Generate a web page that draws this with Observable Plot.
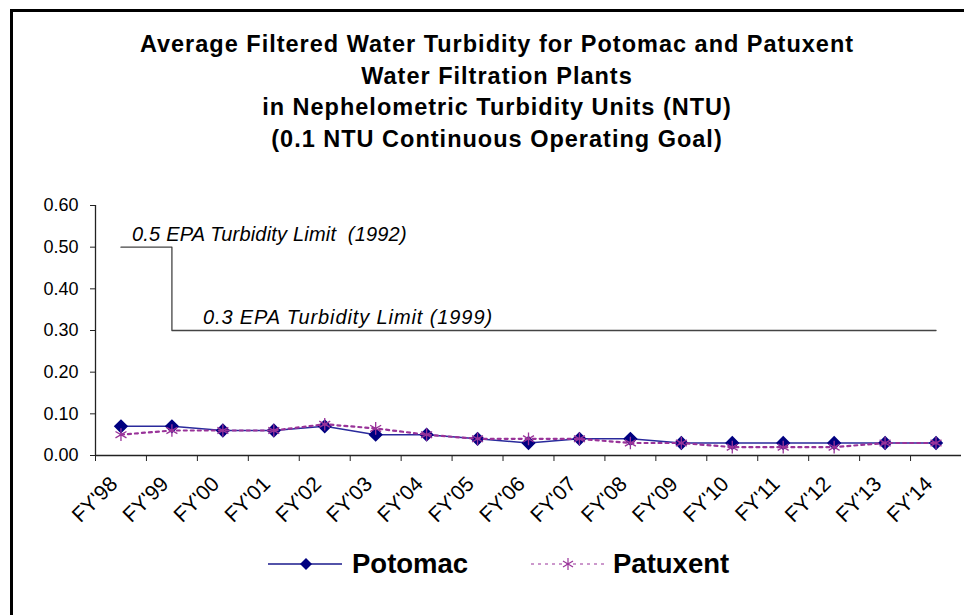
<!DOCTYPE html>
<html><head><meta charset="utf-8">
<script src="https://cdn.jsdelivr.net/npm/d3@7"></script>
<script src="https://cdn.jsdelivr.net/npm/@observablehq/plot@0.6"></script>
<style>
body{margin:0;background:#fff;font-family:"Liberation Sans",Arial,sans-serif;}
#wrap{position:relative;width:964px;height:615px;overflow:hidden;background:#fff}
#frame{position:absolute;left:10px;top:9px;width:970px;height:620px;border-left:3px solid #000;border-top:3px solid #000;box-sizing:border-box;}
#title{position:absolute;left:0;width:994px;top:29px;text-align:center;font-weight:bold;font-size:23.5px;line-height:31.5px;letter-spacing:1px;color:#000;}
#chart{position:absolute;left:0;top:0;}
#legend{position:absolute;left:0;top:540px;}
</style></head>
<body>
<div id="wrap">
  <div id="chart"></div>
  <div id="frame"></div>
  <div id="title">Average Filtered Water Turbidity for Potomac and Patuxent<br>Water Filtration Plants<br>in Nephelometric Turbidity Units (NTU)<br>(0.1 NTU Continuous Operating Goal)</div>
  <svg id="legend" width="964" height="50" font-family="Liberation Sans, Arial, sans-serif">
    <line x1="268" x2="342" y1="24" y2="24" stroke="#1a1a8c" stroke-width="1.5"/>
    <path d="M306,18L312,24L306,30L300,24Z" fill="#000080"/>
    <text x="352" y="33" font-size="27.5" font-weight="bold">Potomac</text>
    <line x1="531" x2="604" y1="24" y2="24" stroke="#993399" stroke-width="1.2" stroke-dasharray="3,4"/>
    <g stroke="#993399" stroke-width="1.2"><line x1="568" x2="568" y1="18" y2="30"/><line x1="563" x2="573" y1="21" y2="27"/><line x1="563" x2="573" y1="27" y2="21"/></g>
    <text x="613" y="33" font-size="27.5" font-weight="bold">Patuxent</text>
  </svg>
</div>
<script>
const categories = ["FY'98","FY'99","FY'00","FY'01","FY'02","FY'03","FY'04","FY'05","FY'06","FY'07","FY'08","FY'09","FY'10","FY'11","FY'12","FY'13","FY'14"];
const potomac  = [0.07,0.07,0.06,0.06,0.07,0.05,0.05,0.04,0.03,0.04,0.04,0.03,0.03,0.03,0.03,0.03,0.03];
const patuxent = [0.05,0.06,0.06,0.06,0.075,0.065,0.05,0.04,0.04,0.04,0.03,0.03,0.02,0.02,0.02,0.03,0.03];
const epaLimit = [0.5,0.3,0.3,0.3,0.3,0.3,0.3,0.3,0.3,0.3,0.3,0.3,0.3,0.3,0.3,0.3,0.3];
const yTicks = [0,0.1,0.2,0.3,0.4,0.5,0.6];
const annotations = [
  {i:0, y:0.5, label:"0.5 EPA Turbidity Limit  (1992)"},
  {i:1, y:0.3, label:"0.3 EPA Turbidity Limit (1999)"}
];

const rows = categories.map((c, i) => ({i, c, potomac: potomac[i], patuxent: patuxent[i], epa: epaLimit[i]}));
const boundaries = d3.range(-0.5, categories.length - 0.5, 1);

const chart = Plot.plot({
  width: 964, height: 615,
  marginTop: 205, marginBottom: 160, marginLeft: 95, marginRight: 3,
  style: {fontFamily: "Liberation Sans, Arial, sans-serif", background: "transparent", overflow: "visible"},
  x: {type: "linear", domain: [-0.5, categories.length - 0.5]},
  y: {domain: [0, 0.6]},
  marks: [
    Plot.axisY(yTicks, {tickFormat: d3.format(".2f"), tickSize: 5, tickPadding: 12, fontSize: 18, label: null, stroke: "#222", fill: "#000"}),
    Plot.axisX(boundaries, {tickFormat: () => "", tickSize: 6, label: null, stroke: "#222"}),
    Plot.ruleY([0], {stroke: "#222", strokeWidth: 1.3}),
    Plot.ruleX([-0.5], {y1: 0, y2: 0.6, stroke: "#222", strokeWidth: 1.3}),
    Plot.text(rows, {x: "i", y: () => 0, text: "c", rotate: -45, textAnchor: "end", lineAnchor: "middle", dx: -7, dy: 25, fontSize: 21, fill: "#000"}),
    Plot.line(rows, {x: "i", y: "epa", curve: "step-after", stroke: "#444", strokeWidth: 1.3}),
    Plot.text(annotations.slice(0,1), {x: "i", y: "y", text: "label", textAnchor: "start", lineAnchor: "bottom", dx: 11, dy: -6, fontSize: 20, fontStyle: "italic", fill: "#000", style: "letter-spacing:0.2px"}),
    Plot.text(annotations.slice(1), {x: "i", y: "y", text: "label", textAnchor: "start", lineAnchor: "bottom", dx: 31, dy: -7, fontSize: 20, fontStyle: "italic", fill: "#000"}),
    Plot.line(rows, {x: "i", y: "potomac", stroke: "#2a2a9c", strokeWidth: 1.5}),
    Plot.dot(rows, {x: "i", y: "potomac", symbol: "diamond2", r: 5.5, fill: "#000080", stroke: "#000080"}),
    Plot.line(rows, {x: "i", y: "patuxent", stroke: "#993399", strokeWidth: 2.2, strokeDasharray: "3,4"}),
    Plot.dot(rows, {x: "i", y: "patuxent", symbol: "asterisk", r: 6, stroke: "#993399", strokeWidth: 1.3})
  ]
});
document.getElementById("chart").appendChild(chart);
// letter spacing for second annotation (wider in the reference)
const texts = chart.querySelectorAll("text");
texts.forEach(t => { if (t.textContent.startsWith("0.3 EPA")) t.setAttribute("letter-spacing", "0.9"); if (t.textContent.startsWith("0.5 EPA")) t.setAttribute("letter-spacing", "0.2"); });
</script>
</body></html>
